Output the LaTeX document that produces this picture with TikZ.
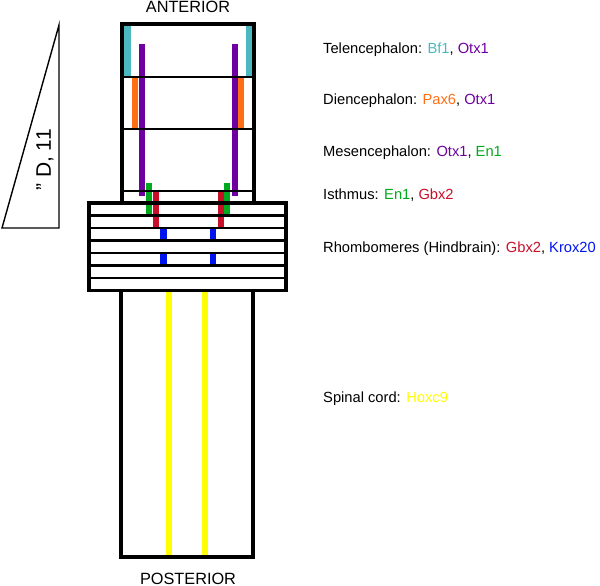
\documentclass[tikz,border=0pt]{standalone}
\usepackage{fontspec}
\setmainfont{Liberation Sans}
\definecolor{bfcol}{RGB}{75,184,192}
\definecolor{paxcol}{RGB}{255,110,20}
\definecolor{otxcol}{RGB}{110,0,160}
\definecolor{encol}{RGB}{0,170,30}
\definecolor{gbxcol}{RGB}{200,15,40}
\definecolor{kroxcol}{RGB}{0,20,240}
\definecolor{hoxcol}{RGB}{255,255,0}

\begin{document}
\begin{tikzpicture}[x=1pt, y=-1pt,
  wall/.style={line width=3.4pt},
  seg/.style={line width=2.1pt},
  region/.style={anchor=base west, inner sep=0pt, font=\fontsize{14.7}{17}\selectfont},
  axislabel/.style={anchor=base, inner sep=0pt, font=\fontsize{16.3}{19}\selectfont}]
  \useasboundingbox (0,0) rectangle (600,586);
  % gene bars, left side
  \fill[bfcol] (124,24) rectangle (131,77);
  \fill[paxcol] (132,77) rectangle (138,129);
  \fill[otxcol] (139,44) rectangle (145,196);
  \fill[encol] (146,183) rectangle (152,214);
  \fill[gbxcol] (153,192) rectangle (159,228);
  \fill[kroxcol] (160,228) rectangle (167,240);
  \fill[kroxcol] (160,253) rectangle (167,265);
  \fill[hoxcol] (166,290) rectangle (172,557);
  % gene bars, right side
  \fill[bfcol] (246,24) rectangle (252,77);
  \fill[paxcol] (238,77) rectangle (244,129);
  \fill[otxcol] (232,44) rectangle (238,196);
  \fill[encol] (224,183) rectangle (230,214);
  \fill[gbxcol] (218,192) rectangle (224,228);
  \fill[kroxcol] (210,228) rectangle (216,240);
  \fill[kroxcol] (210,253) rectangle (216,265);
  \fill[hoxcol] (202,290) rectangle (208,557);
  % brain segments
  \draw[seg] (122,77) -- (254,77);
  \draw[seg] (122,129) -- (254,129);
  \draw[seg] (122,191) -- (254,191);
  \draw[seg] (89,215.5) -- (286,215.5);
  \draw[seg] (89,228) -- (286,228);
  \draw[seg] (89,240.5) -- (286,240.5);
  \draw[seg] (89,253) -- (286,253);
  \draw[seg] (89,265.5) -- (286,265.5);
  \draw[seg] (89,278) -- (286,278);
  \draw[wall] (122,24) rectangle (254,203);
  \draw[wall] (89,203) rectangle (286,290.5);
  \draw[wall] (121,290.5) rectangle (253,557);
  % gradient wedge
  \draw[line width=1.4pt] (2,228) -- (59,25) -- (59,228) -- cycle;
  \node[rotate=90, inner sep=0pt, font=\fontsize{21}{24}\selectfont] (grad) at (45,160) {\symbol{34} D, 11};
  \node[axislabel] (ant) at (188,13) {ANTERIOR};
  \node[axislabel] (post) at (188,584) {POSTERIOR};
  \node[region] (tel) at (323,54) {Telencephalon: \textcolor{bfcol}{Bf1}, \textcolor{otxcol}{Otx1}};
  \node[region] (dien) at (323,104) {Diencephalon: \textcolor{paxcol}{Pax6}, \textcolor{otxcol}{Otx1}};
  \node[region] (mes) at (323,156.5) {Mesencephalon: \textcolor{otxcol}{Otx1}, \textcolor{encol}{En1}};
  \node[region] (isth) at (323,199.5) {Isthmus: \textcolor{encol}{En1}, \textcolor{gbxcol}{Gbx2}};
  \node[region] (rhomb) at (323,252.5) {Rhombomeres (Hindbrain): \textcolor{gbxcol}{Gbx2}, \textcolor{kroxcol}{Krox20}};
  \node[region] (spin) at (323,402.5) {Spinal cord: \textcolor{hoxcol}{Hoxc9}};
\end{tikzpicture}
\end{document}
